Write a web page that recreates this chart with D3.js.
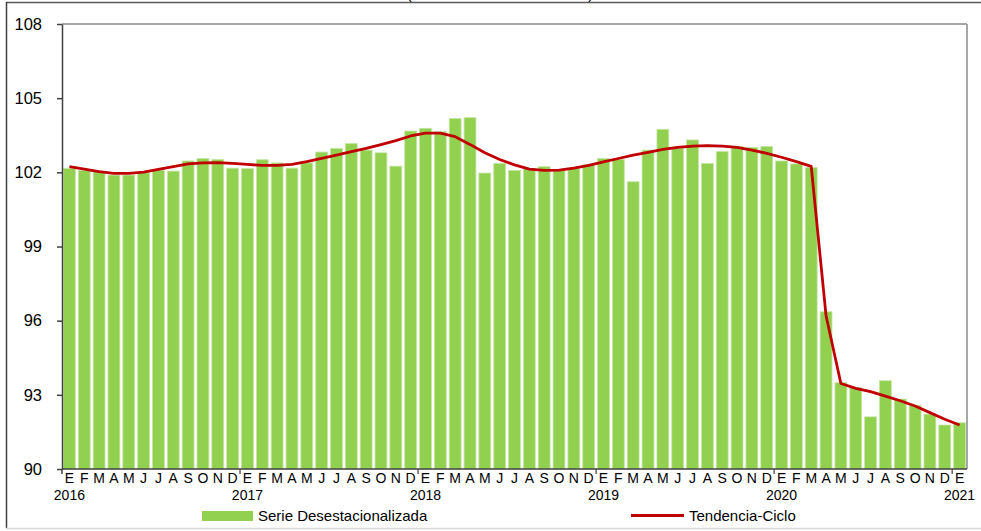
<!DOCTYPE html>
<html><head><meta charset="utf-8">
<script src="https://cdn.jsdelivr.net/npm/d3@7"></script>
<style>body{margin:0;background:#fff}svg{display:block;font-family:"Liberation Sans",Arial,sans-serif}</style>
</head><body><svg id="c" width="981" height="531"></svg>
<script>
const monthLetters = ["E","F","M","A","M","J","J","A","S","O","N","D"];
const years = ["2016","2017","2018","2019","2020","2021"];
const yTicks = [90,93,96,99,102,105,108];
const serie = [
 102.16,102.07,102.03,101.89,101.89,101.98,102.09,102.05,102.46,102.56,102.52,102.17,
 102.15,102.51,102.38,102.17,102.38,102.82,102.97,103.17,102.90,102.79,102.25,103.67,
 103.78,103.64,104.18,104.21,101.97,102.36,102.08,102.15,102.23,102.09,102.15,102.30,
 102.56,102.52,101.62,102.90,103.74,102.97,103.31,102.36,102.84,103.04,103.01,103.04,
 102.46,102.34,102.19,96.36,93.49,93.30,92.11,93.57,92.83,92.57,92.22,91.78,
 91.87];
const tendencia = [
 102.23,102.13,102.03,101.96,101.96,102.01,102.12,102.23,102.34,102.38,102.39,102.36,
 102.32,102.28,102.28,102.32,102.43,102.56,102.70,102.84,102.97,103.12,103.28,103.47,
 103.59,103.59,103.44,103.13,102.79,102.52,102.30,102.13,102.08,102.09,102.17,102.28,
 102.42,102.56,102.70,102.81,102.93,103.01,103.06,103.08,103.06,103.01,102.90,102.77,
 102.61,102.43,102.24,96.20,93.46,93.26,93.13,92.95,92.76,92.55,92.28,92.01,
 91.78];
const labels = serie.map((d,i)=>monthLetters[i%12]);

const svg = d3.select("#c");
const L=62,R=967,T=24,B=469;
const x = d3.scaleBand().domain(d3.range(serie.length)).range([L,R]).paddingInner(0.2).paddingOuter(0.1);
const y = d3.scaleLinear().domain([90,108]).range([B,T]);

// outer frame
svg.append("line").attr("x1",6).attr("x2",981).attr("y1",2.5).attr("y2",2.5).attr("stroke","#595959").attr("stroke-width",1.5);
svg.append("line").attr("x1",6.5).attr("x2",6.5).attr("y1",2).attr("y2",528).attr("stroke","#404040").attr("stroke-width",1.5);
svg.append("line").attr("x1",6).attr("x2",981).attr("y1",528.5).attr("y2",528.5).attr("stroke","#d9d9d9").attr("stroke-width",1.5);
// clipped title remnant
svg.append("text").attr("x",407).attr("y",-1.5).attr("textLength",186).attr("lengthAdjust","spacing")
  .attr("font-size",14).attr("fill","#000").text("(Índice base 2015 = 100)");

// plot border (top/right gray)
svg.append("line").attr("x1",L).attr("x2",R).attr("y1",T).attr("y2",T).attr("stroke","#a6a6a6").attr("stroke-width",2);
svg.append("line").attr("x1",R).attr("x2",R).attr("y1",T).attr("y2",B).attr("stroke","#a6a6a6").attr("stroke-width",2);

// bars
svg.append("g").selectAll("rect").data(serie).join("rect")
  .attr("x",(d,i)=>x(i)).attr("width",x.bandwidth())
  .attr("y",d=>y(d)).attr("height",d=>B-y(d))
  .attr("fill","#92d050").attr("stroke","#c5e6a6").attr("stroke-width",0.8);

// trend line
svg.append("path").datum(tendencia)
  .attr("d",d3.line().x((d,i)=>x(i)+x.bandwidth()/2).y(d=>y(d)))
  .attr("fill","none").attr("stroke","#c00000").attr("stroke-width",2.8).attr("stroke-linejoin","round");

// y axis
const ya = svg.append("g").attr("transform",`translate(${L},0)`)
  .call(d3.axisLeft(y).tickValues(yTicks).tickSize(5).tickPadding(15).tickSizeOuter(0));
ya.select(".domain").attr("stroke","#404040").attr("stroke-width",1.5);
ya.selectAll(".tick line").attr("stroke","#404040").attr("stroke-width",1.5);
ya.selectAll(".tick text").attr("font-size",16.5).attr("fill","#000").attr("font-family","Liberation Sans, Arial, sans-serif");
svg.append("line").attr("x1",L).attr("x2",L).attr("y1",B).attr("y2",B+5).attr("stroke","#404040").attr("stroke-width",1.5);

// x axis
const step = x.step();
const xb = d3.scaleLinear().domain([0,serie.length]).range([L,R]);
svg.append("line").attr("x1",L).attr("x2",R).attr("y1",B).attr("y2",B).attr("stroke","#404040").attr("stroke-width",1.5);
svg.append("g").selectAll("line").data(d3.range(12,serie.length,12)).join("line")
  .attr("x1",d=>xb(d)).attr("x2",d=>xb(d)).attr("y1",B).attr("y2",B+5)
  .attr("stroke","#404040").attr("stroke-width",1.2);
svg.append("g").selectAll("text").data(labels).join("text")
  .attr("x",(d,i)=>xb(i+0.5)).attr("y",483).attr("text-anchor","middle")
  .attr("font-size",14).attr("fill","#000").text(d=>d);
svg.append("g").selectAll("text").data(years).join("text")
  .attr("x",(d,i)=>xb(i*12+0.5)).attr("y",500).attr("text-anchor","middle")
  .attr("font-size",14).attr("fill","#000").text(d=>d);

// legend
svg.append("rect").attr("x",202).attr("y",511).attr("width",51).attr("height",10).attr("fill","#92d050");
svg.append("text").attr("x",258).attr("y",521).attr("font-size",15).attr("fill","#000").text("Serie Desestacionalizada");
svg.append("line").attr("x1",631).attr("x2",684).attr("y1",515.5).attr("y2",515.5).attr("stroke","#c00000").attr("stroke-width",2.8);
svg.append("text").attr("x",689).attr("y",521).attr("font-size",15).attr("fill","#000").text("Tendencia-Ciclo");
</script></body></html>
